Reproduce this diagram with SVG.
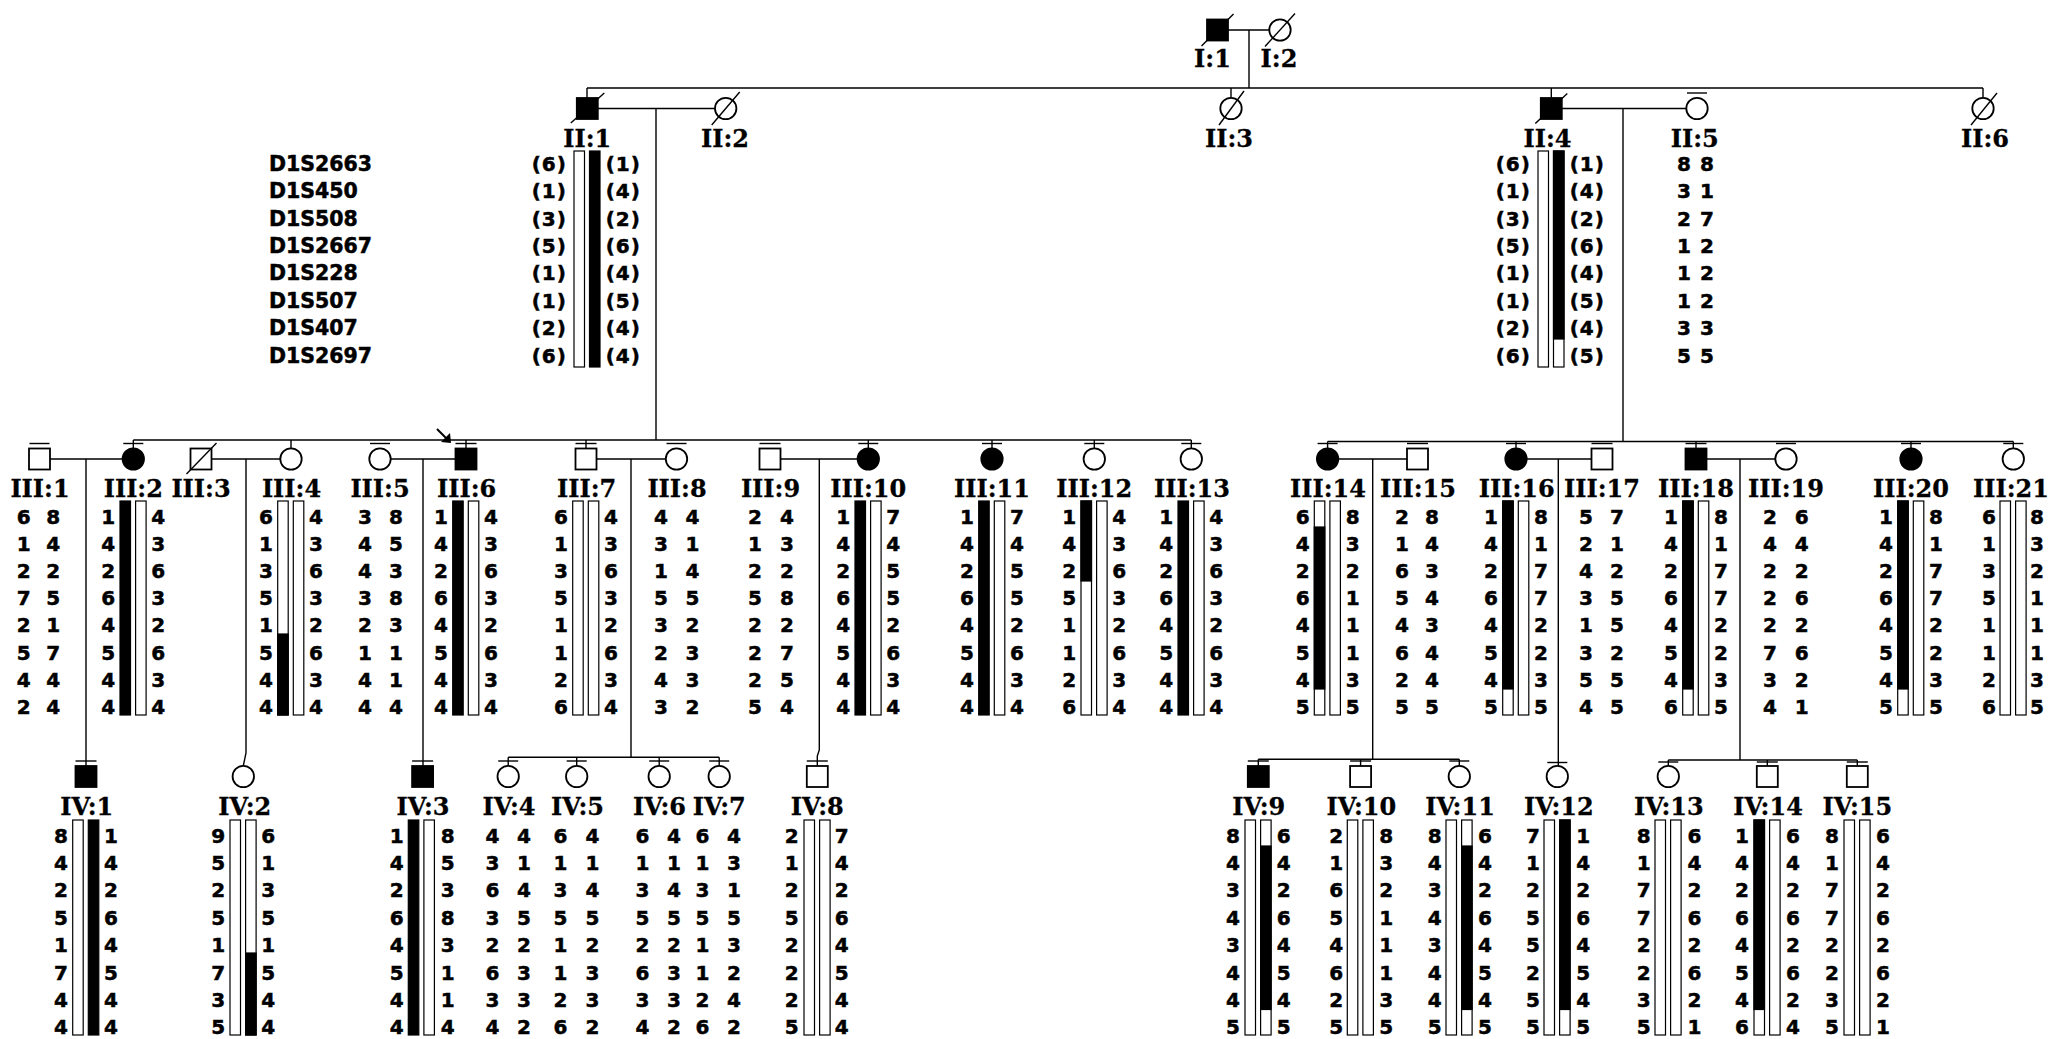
<svg xmlns="http://www.w3.org/2000/svg" width="2050" height="1039" viewBox="0 0 2050 1039">
<style>
.ln{stroke:#000;stroke-width:1.4;fill:none}
.s{stroke:#000;stroke-width:1.8;fill:#fff}
.k{fill:#000}
.bw{fill:#fff;stroke:#000;stroke-width:1.2}
.bb{fill:#000;stroke:#000;stroke-width:1.2}
.a{font-family:"DejaVu Sans",Verdana,sans-serif;font-weight:700;font-size:20px;text-anchor:middle;stroke:#000;stroke-width:0.5}
.p{letter-spacing:1px}
.m{font-family:"DejaVu Sans",Verdana,sans-serif;font-weight:700;font-size:20.5px;stroke:#000;stroke-width:0.5}
.l{font-family:"DejaVu Serif",serif;font-weight:700;font-size:24px;text-anchor:middle;stroke:#000;stroke-width:0.3}
</style>
<rect width="2050" height="1039" fill="#fff"/>
<g id="connectors" class="ln">
<path d="M1228 30H1269.3M1249 30V88"/>
<path d="M587 88H1983M587 88V98M1231 88V97.8M1551.3 88V98M1983 88V97.8"/>
<path d="M598 108.5H715M656 108.5V440M1562 108.5H1686.3M1623 108.5V441.5"/>
<path d="M133.3 440H1191.3M133.3 440V448.3M291 440V448.3M466 440V448.5M586 440V448.5M868.3 440V448.3M992 440V448.3M1094.3 440V448.3M1191.3 440V448.3"/>
<path d="M1327.6 441.5H2013.3M1327.6 441.5V448.3M1516 441.5V448.3M1696 441.5V448.5M1911 441.5V448.3M2013.3 441.5V448.3"/>
<path d="M50 459H122.6M211.5 459H280.3M390.7 459H455.5M596.5 459H665.8M780.5 459H857.6M1338.3 459H1407M1526.7 459H1591.5M1706.5 459H1775.3"/>
<path d="M86 459V766M246 459V753L243.3 765.8M423 459V766M631 459V757.3M819.3 459V750L817.3 756V766M1372.7 459V759.3M1558.3 459V765.8M1740 459V760"/>
<path d="M508.2 757.3H719.2M508.2 757.3V765.8M576.7 757.3V765.8M659.2 757.3V765.8M719.2 757.3V765.8"/>
<path d="M1258.3 759.3H1459.3M1258.3 759.3V766M1360.6 759.3V766M1459.3 759.3V765.8"/>
<path d="M1668.3 760H1857.3M1668.3 760V765.8M1767.3 760V766M1857.3 760V766"/>
</g>
<g id="markers" class="m">
<text x="269" y="171">D1S2663</text><text x="269" y="198">D1S450</text><text x="269" y="226">D1S508</text><text x="269" y="253">D1S2667</text><text x="269" y="280">D1S228</text><text x="269" y="308">D1S507</text><text x="269" y="335">D1S407</text><text x="269" y="363">D1S2697</text>
</g>
<g id="I-1" transform="translate(1217.5 0)">
<rect class="s k" x="-10.5" y="19.5" width="21" height="21"/><path class="ln" d="M-16 46L16 14"/>
<text class="l" x="-5" y="67">I:1</text>
</g>
<g id="I-2" transform="translate(1280 0)">
<circle class="s" cy="30" r="10.7"/><path class="ln" d="M-15 46.5L15 13.5"/>
<text class="l" x="-1" y="67">I:2</text>
</g>
<g id="II-1" transform="translate(587.3 0)">
<rect class="s k" x="-10.5" y="98" width="21" height="21"/><path class="ln" d="M-16.5 123L17 93"/>
<text class="l" y="147">II:1</text>
<rect class="bw" x="-13.3" y="151" width="10.5" height="216"/><rect class="bb" x="2.2" y="151" width="10.5" height="216"/>
<text class="a p" x="-38" y="171">(6)</text><text class="a p" x="-38" y="198">(1)</text><text class="a p" x="-38" y="226">(3)</text><text class="a p" x="-38" y="253">(5)</text><text class="a p" x="-38" y="280">(1)</text><text class="a p" x="-38" y="308">(1)</text><text class="a p" x="-38" y="335">(2)</text><text class="a p" x="-38" y="363">(6)</text>
<text class="a p" x="36" y="171">(1)</text><text class="a p" x="36" y="198">(4)</text><text class="a p" x="36" y="226">(2)</text><text class="a p" x="36" y="253">(6)</text><text class="a p" x="36" y="280">(4)</text><text class="a p" x="36" y="308">(5)</text><text class="a p" x="36" y="335">(4)</text><text class="a p" x="36" y="363">(4)</text>
</g>
<g id="II-2" transform="translate(725.7 0)">
<circle class="s" cy="108.5" r="10.7"/><path class="ln" d="M-14 125L14 92"/>
<text class="l" x="-0.7" y="147">II:2</text>
</g>
<g id="II-3" transform="translate(1231 0)">
<circle class="s" cy="108.5" r="10.7"/><path class="ln" d="M-12 125L13 91"/>
<text class="l" x="-2" y="147">II:3</text>
</g>
<g id="II-4" transform="translate(1551.3 0)">
<rect class="s k" x="-10.5" y="98" width="21" height="21"/><path class="ln" d="M-16 123.5L16 93.5"/>
<text class="l" x="-3.8" y="147">II:4</text>
<rect class="bw" x="-13.3" y="151" width="10.5" height="216"/><rect class="bw" x="2.2" y="151" width="10.5" height="216"/><rect class="bb" x="2.2" y="151" width="10.5" height="188"/>
<text class="a p" x="-38" y="171">(6)</text><text class="a p" x="-38" y="198">(1)</text><text class="a p" x="-38" y="226">(3)</text><text class="a p" x="-38" y="253">(5)</text><text class="a p" x="-38" y="280">(1)</text><text class="a p" x="-38" y="308">(1)</text><text class="a p" x="-38" y="335">(2)</text><text class="a p" x="-38" y="363">(6)</text>
<text class="a p" x="36" y="171">(1)</text><text class="a p" x="36" y="198">(4)</text><text class="a p" x="36" y="226">(2)</text><text class="a p" x="36" y="253">(6)</text><text class="a p" x="36" y="280">(4)</text><text class="a p" x="36" y="308">(5)</text><text class="a p" x="36" y="335">(4)</text><text class="a p" x="36" y="363">(5)</text>
</g>
<g id="II-5" transform="translate(1697 0)">
<circle class="s" cy="108.5" r="10.7"/><path class="ln" d="M-10 93H10"/>
<text class="l" x="-2.3" y="147">II:5</text>
<text class="a" x="-13" y="171">8</text><text class="a" x="-13" y="198">3</text><text class="a" x="-13" y="226">2</text><text class="a" x="-13" y="253">1</text><text class="a" x="-13" y="280">1</text><text class="a" x="-13" y="308">1</text><text class="a" x="-13" y="335">3</text><text class="a" x="-13" y="363">5</text>
<text class="a" x="10" y="171">8</text><text class="a" x="10" y="198">1</text><text class="a" x="10" y="226">7</text><text class="a" x="10" y="253">2</text><text class="a" x="10" y="280">2</text><text class="a" x="10" y="308">2</text><text class="a" x="10" y="335">3</text><text class="a" x="10" y="363">5</text>
</g>
<g id="II-6" transform="translate(1983 0)">
<circle class="s" cy="108.5" r="10.7"/><path class="ln" d="M-12 125L14 93"/>
<text class="l" x="2" y="147">II:6</text>
</g>
<g id="III-1" transform="translate(39.5 0)">
<rect class="s" x="-10.5" y="448.5" width="21" height="21"/><path class="ln" d="M-10 443.5H10"/>
<text class="l" x="0.5" y="497">III:1</text>
<text class="a" x="-15.8" y="524">6</text><text class="a" x="-15.8" y="551">1</text><text class="a" x="-15.8" y="578">2</text><text class="a" x="-15.8" y="605">7</text><text class="a" x="-15.8" y="632">2</text><text class="a" x="-15.8" y="660">5</text><text class="a" x="-15.8" y="687">4</text><text class="a" x="-15.8" y="714">2</text>
<text class="a" x="13.8" y="524">8</text><text class="a" x="13.8" y="551">4</text><text class="a" x="13.8" y="578">2</text><text class="a" x="13.8" y="605">5</text><text class="a" x="13.8" y="632">1</text><text class="a" x="13.8" y="660">7</text><text class="a" x="13.8" y="687">4</text><text class="a" x="13.8" y="714">4</text>
</g>
<g id="III-2" transform="translate(133.3 0)">
<circle class="s k" cy="459" r="10.7"/><path class="ln" d="M-10 443.5H10"/>
<text class="l" y="497">III:2</text>
<rect class="bb" x="-13.3" y="501" width="10.5" height="214"/><rect class="bw" x="2.3" y="501" width="10.5" height="214"/>
<text class="a" x="-25" y="524">1</text><text class="a" x="-25" y="551">4</text><text class="a" x="-25" y="578">2</text><text class="a" x="-25" y="605">6</text><text class="a" x="-25" y="632">4</text><text class="a" x="-25" y="660">5</text><text class="a" x="-25" y="687">4</text><text class="a" x="-25" y="714">4</text>
<text class="a" x="25" y="524">4</text><text class="a" x="25" y="551">3</text><text class="a" x="25" y="578">6</text><text class="a" x="25" y="605">3</text><text class="a" x="25" y="632">2</text><text class="a" x="25" y="660">6</text><text class="a" x="25" y="687">3</text><text class="a" x="25" y="714">4</text>
</g>
<g id="III-3" transform="translate(201 0)">
<rect class="s" x="-10.5" y="448.5" width="21" height="21"/><path class="ln" d="M-14.5 474L15.5 443"/>
<text class="l" y="497">III:3</text>
</g>
<g id="III-4" transform="translate(291 0)">
<circle class="s" cy="459" r="10.7"/>
<text class="l" x="0.5" y="497">III:4</text>
<rect class="bw" x="-13.3" y="501" width="10.5" height="214"/><rect class="bb" x="-13.3" y="634" width="10.5" height="81"/><rect class="bw" x="2.3" y="501" width="10.5" height="214"/>
<text class="a" x="-25" y="524">6</text><text class="a" x="-25" y="551">1</text><text class="a" x="-25" y="578">3</text><text class="a" x="-25" y="605">5</text><text class="a" x="-25" y="632">1</text><text class="a" x="-25" y="660">5</text><text class="a" x="-25" y="687">4</text><text class="a" x="-25" y="714">4</text>
<text class="a" x="25" y="524">4</text><text class="a" x="25" y="551">3</text><text class="a" x="25" y="578">6</text><text class="a" x="25" y="605">3</text><text class="a" x="25" y="632">2</text><text class="a" x="25" y="660">6</text><text class="a" x="25" y="687">3</text><text class="a" x="25" y="714">4</text>
</g>
<g id="III-5" transform="translate(380 0)">
<circle class="s" cy="459" r="10.7"/><path class="ln" d="M-10 443.5H10"/>
<text class="l" y="497">III:5</text>
<text class="a" x="-15" y="524">3</text><text class="a" x="-15" y="551">4</text><text class="a" x="-15" y="578">4</text><text class="a" x="-15" y="605">3</text><text class="a" x="-15" y="632">2</text><text class="a" x="-15" y="660">1</text><text class="a" x="-15" y="687">4</text><text class="a" x="-15" y="714">4</text>
<text class="a" x="16" y="524">8</text><text class="a" x="16" y="551">5</text><text class="a" x="16" y="578">3</text><text class="a" x="16" y="605">8</text><text class="a" x="16" y="632">3</text><text class="a" x="16" y="660">1</text><text class="a" x="16" y="687">1</text><text class="a" x="16" y="714">4</text>
</g>
<g id="III-6" transform="translate(466 0)">
<rect class="s k" x="-10.5" y="448.5" width="21" height="21"/><path class="ln" d="M-10.5 443.5H10.5"/>
<path class="ln" d="M-29 429L-18.5 439.5" style="stroke-width:2"/><polygon points="-15,443 -16,433 -25,442"/>
<text class="l" x="0.7" y="497">III:6</text>
<rect class="bb" x="-13.3" y="501" width="10.5" height="214"/><rect class="bw" x="2.3" y="501" width="10.5" height="214"/>
<text class="a" x="-25" y="524">1</text><text class="a" x="-25" y="551">4</text><text class="a" x="-25" y="578">2</text><text class="a" x="-25" y="605">6</text><text class="a" x="-25" y="632">4</text><text class="a" x="-25" y="660">5</text><text class="a" x="-25" y="687">4</text><text class="a" x="-25" y="714">4</text>
<text class="a" x="25" y="524">4</text><text class="a" x="25" y="551">3</text><text class="a" x="25" y="578">6</text><text class="a" x="25" y="605">3</text><text class="a" x="25" y="632">2</text><text class="a" x="25" y="660">6</text><text class="a" x="25" y="687">3</text><text class="a" x="25" y="714">4</text>
</g>
<g id="III-7" transform="translate(586 0)">
<rect class="s" x="-10.5" y="448.5" width="21" height="21"/><path class="ln" d="M-10.5 443.5H10.5"/>
<text class="l" x="0.7" y="497">III:7</text>
<rect class="bw" x="-13.3" y="501" width="10.5" height="214"/><rect class="bw" x="2.3" y="501" width="10.5" height="214"/>
<text class="a" x="-25" y="524">6</text><text class="a" x="-25" y="551">1</text><text class="a" x="-25" y="578">3</text><text class="a" x="-25" y="605">5</text><text class="a" x="-25" y="632">1</text><text class="a" x="-25" y="660">1</text><text class="a" x="-25" y="687">2</text><text class="a" x="-25" y="714">6</text>
<text class="a" x="25" y="524">4</text><text class="a" x="25" y="551">3</text><text class="a" x="25" y="578">6</text><text class="a" x="25" y="605">3</text><text class="a" x="25" y="632">2</text><text class="a" x="25" y="660">6</text><text class="a" x="25" y="687">3</text><text class="a" x="25" y="714">4</text>
</g>
<g id="III-8" transform="translate(676.5 0)">
<circle class="s" cy="459" r="10.7"/><path class="ln" d="M-10 443.5H10"/>
<text class="l" x="0.5" y="497">III:8</text>
<text class="a" x="-15.5" y="524">4</text><text class="a" x="-15.5" y="551">3</text><text class="a" x="-15.5" y="578">1</text><text class="a" x="-15.5" y="605">5</text><text class="a" x="-15.5" y="632">3</text><text class="a" x="-15.5" y="660">2</text><text class="a" x="-15.5" y="687">4</text><text class="a" x="-15.5" y="714">3</text>
<text class="a" x="16" y="524">4</text><text class="a" x="16" y="551">1</text><text class="a" x="16" y="578">4</text><text class="a" x="16" y="605">5</text><text class="a" x="16" y="632">2</text><text class="a" x="16" y="660">3</text><text class="a" x="16" y="687">3</text><text class="a" x="16" y="714">2</text>
</g>
<g id="III-9" transform="translate(770 0)">
<rect class="s" x="-10.5" y="448.5" width="21" height="21"/><path class="ln" d="M-10.5 443.5H10.5"/>
<text class="l" x="0.5" y="497">III:9</text>
<text class="a" x="-15" y="524">2</text><text class="a" x="-15" y="551">1</text><text class="a" x="-15" y="578">2</text><text class="a" x="-15" y="605">5</text><text class="a" x="-15" y="632">2</text><text class="a" x="-15" y="660">2</text><text class="a" x="-15" y="687">2</text><text class="a" x="-15" y="714">5</text>
<text class="a" x="17" y="524">4</text><text class="a" x="17" y="551">3</text><text class="a" x="17" y="578">2</text><text class="a" x="17" y="605">8</text><text class="a" x="17" y="632">2</text><text class="a" x="17" y="660">7</text><text class="a" x="17" y="687">5</text><text class="a" x="17" y="714">4</text>
</g>
<g id="III-10" transform="translate(868.3 0)">
<circle class="s k" cy="459" r="10.7"/><path class="ln" d="M-10 443.5H10"/>
<text class="l" y="497">III:10</text>
<rect class="bb" x="-13.3" y="501" width="10.5" height="214"/><rect class="bw" x="2.3" y="501" width="10.5" height="214"/>
<text class="a" x="-25" y="524">1</text><text class="a" x="-25" y="551">4</text><text class="a" x="-25" y="578">2</text><text class="a" x="-25" y="605">6</text><text class="a" x="-25" y="632">4</text><text class="a" x="-25" y="660">5</text><text class="a" x="-25" y="687">4</text><text class="a" x="-25" y="714">4</text>
<text class="a" x="25" y="524">7</text><text class="a" x="25" y="551">4</text><text class="a" x="25" y="578">5</text><text class="a" x="25" y="605">5</text><text class="a" x="25" y="632">2</text><text class="a" x="25" y="660">6</text><text class="a" x="25" y="687">3</text><text class="a" x="25" y="714">4</text>
</g>
<g id="III-11" transform="translate(992 0)">
<circle class="s k" cy="459" r="10.7"/><path class="ln" d="M-10 443.5H10"/>
<text class="l" y="497">III:11</text>
<rect class="bb" x="-13.3" y="501" width="10.5" height="214"/><rect class="bw" x="2.3" y="501" width="10.5" height="214"/>
<text class="a" x="-25" y="524">1</text><text class="a" x="-25" y="551">4</text><text class="a" x="-25" y="578">2</text><text class="a" x="-25" y="605">6</text><text class="a" x="-25" y="632">4</text><text class="a" x="-25" y="660">5</text><text class="a" x="-25" y="687">4</text><text class="a" x="-25" y="714">4</text>
<text class="a" x="25" y="524">7</text><text class="a" x="25" y="551">4</text><text class="a" x="25" y="578">5</text><text class="a" x="25" y="605">5</text><text class="a" x="25" y="632">2</text><text class="a" x="25" y="660">6</text><text class="a" x="25" y="687">3</text><text class="a" x="25" y="714">4</text>
</g>
<g id="III-12" transform="translate(1094.3 0)">
<circle class="s" cy="459" r="10.7"/><path class="ln" d="M-10 443.5H10"/>
<text class="l" y="497">III:12</text>
<rect class="bw" x="-13.3" y="501" width="10.5" height="214"/><rect class="bb" x="-13.3" y="501" width="10.5" height="80"/><rect class="bw" x="2.3" y="501" width="10.5" height="214"/>
<text class="a" x="-25" y="524">1</text><text class="a" x="-25" y="551">4</text><text class="a" x="-25" y="578">2</text><text class="a" x="-25" y="605">5</text><text class="a" x="-25" y="632">1</text><text class="a" x="-25" y="660">1</text><text class="a" x="-25" y="687">2</text><text class="a" x="-25" y="714">6</text>
<text class="a" x="25" y="524">4</text><text class="a" x="25" y="551">3</text><text class="a" x="25" y="578">6</text><text class="a" x="25" y="605">3</text><text class="a" x="25" y="632">2</text><text class="a" x="25" y="660">6</text><text class="a" x="25" y="687">3</text><text class="a" x="25" y="714">4</text>
</g>
<g id="III-13" transform="translate(1191.3 0)">
<circle class="s" cy="459" r="10.7"/><path class="ln" d="M-10 443.5H10"/>
<text class="l" x="0.7" y="497">III:13</text>
<rect class="bb" x="-13.3" y="501" width="10.5" height="214"/><rect class="bw" x="2.3" y="501" width="10.5" height="214"/>
<text class="a" x="-25" y="524">1</text><text class="a" x="-25" y="551">4</text><text class="a" x="-25" y="578">2</text><text class="a" x="-25" y="605">6</text><text class="a" x="-25" y="632">4</text><text class="a" x="-25" y="660">5</text><text class="a" x="-25" y="687">4</text><text class="a" x="-25" y="714">4</text>
<text class="a" x="25" y="524">4</text><text class="a" x="25" y="551">3</text><text class="a" x="25" y="578">6</text><text class="a" x="25" y="605">3</text><text class="a" x="25" y="632">2</text><text class="a" x="25" y="660">6</text><text class="a" x="25" y="687">3</text><text class="a" x="25" y="714">4</text>
</g>
<g id="III-14" transform="translate(1327.6 0)">
<circle class="s k" cy="459" r="10.7"/><path class="ln" d="M-10 443.5H10"/>
<text class="l" x="0.4" y="497">III:14</text>
<rect class="bw" x="-13.3" y="501" width="10.5" height="214"/><rect class="bb" x="-13.3" y="527" width="10.5" height="162"/><rect class="bw" x="2.3" y="501" width="10.5" height="214"/>
<text class="a" x="-25" y="524">6</text><text class="a" x="-25" y="551">4</text><text class="a" x="-25" y="578">2</text><text class="a" x="-25" y="605">6</text><text class="a" x="-25" y="632">4</text><text class="a" x="-25" y="660">5</text><text class="a" x="-25" y="687">4</text><text class="a" x="-25" y="714">5</text>
<text class="a" x="25" y="524">8</text><text class="a" x="25" y="551">3</text><text class="a" x="25" y="578">2</text><text class="a" x="25" y="605">1</text><text class="a" x="25" y="632">1</text><text class="a" x="25" y="660">1</text><text class="a" x="25" y="687">3</text><text class="a" x="25" y="714">5</text>
</g>
<g id="III-15" transform="translate(1417.5 0)">
<rect class="s" x="-10.5" y="448.5" width="21" height="21"/><path class="ln" d="M-10.5 443.5H10.5"/>
<text class="l" x="0.5" y="497">III:15</text>
<text class="a" x="-15.5" y="524">2</text><text class="a" x="-15.5" y="551">1</text><text class="a" x="-15.5" y="578">6</text><text class="a" x="-15.5" y="605">5</text><text class="a" x="-15.5" y="632">4</text><text class="a" x="-15.5" y="660">6</text><text class="a" x="-15.5" y="687">2</text><text class="a" x="-15.5" y="714">5</text>
<text class="a" x="14.5" y="524">8</text><text class="a" x="14.5" y="551">4</text><text class="a" x="14.5" y="578">3</text><text class="a" x="14.5" y="605">4</text><text class="a" x="14.5" y="632">3</text><text class="a" x="14.5" y="660">4</text><text class="a" x="14.5" y="687">4</text><text class="a" x="14.5" y="714">5</text>
</g>
<g id="III-16" transform="translate(1516 0)">
<circle class="s k" cy="459" r="10.7"/><path class="ln" d="M-10 443.5H10"/>
<text class="l" x="0.7" y="497">III:16</text>
<rect class="bw" x="-13.3" y="501" width="10.5" height="214"/><rect class="bb" x="-13.3" y="501" width="10.5" height="188"/><rect class="bw" x="2.3" y="501" width="10.5" height="214"/>
<text class="a" x="-25" y="524">1</text><text class="a" x="-25" y="551">4</text><text class="a" x="-25" y="578">2</text><text class="a" x="-25" y="605">6</text><text class="a" x="-25" y="632">4</text><text class="a" x="-25" y="660">5</text><text class="a" x="-25" y="687">4</text><text class="a" x="-25" y="714">5</text>
<text class="a" x="25" y="524">8</text><text class="a" x="25" y="551">1</text><text class="a" x="25" y="578">7</text><text class="a" x="25" y="605">7</text><text class="a" x="25" y="632">2</text><text class="a" x="25" y="660">2</text><text class="a" x="25" y="687">3</text><text class="a" x="25" y="714">5</text>
</g>
<g id="III-17" transform="translate(1602 0)">
<rect class="s" x="-10.5" y="448.5" width="21" height="21"/><path class="ln" d="M-10.5 443.5H10.5"/>
<text class="l" y="497">III:17</text>
<text class="a" x="-16" y="524">5</text><text class="a" x="-16" y="551">2</text><text class="a" x="-16" y="578">4</text><text class="a" x="-16" y="605">3</text><text class="a" x="-16" y="632">1</text><text class="a" x="-16" y="660">3</text><text class="a" x="-16" y="687">5</text><text class="a" x="-16" y="714">4</text>
<text class="a" x="15" y="524">7</text><text class="a" x="15" y="551">1</text><text class="a" x="15" y="578">2</text><text class="a" x="15" y="605">5</text><text class="a" x="15" y="632">5</text><text class="a" x="15" y="660">2</text><text class="a" x="15" y="687">5</text><text class="a" x="15" y="714">5</text>
</g>
<g id="III-18" transform="translate(1696 0)">
<rect class="s k" x="-10.5" y="448.5" width="21" height="21"/><path class="ln" d="M-10.5 443.5H10.5"/>
<text class="l" y="497">III:18</text>
<rect class="bw" x="-13.3" y="501" width="10.5" height="214"/><rect class="bb" x="-13.3" y="501" width="10.5" height="188"/><rect class="bw" x="2.3" y="501" width="10.5" height="214"/>
<text class="a" x="-25" y="524">1</text><text class="a" x="-25" y="551">4</text><text class="a" x="-25" y="578">2</text><text class="a" x="-25" y="605">6</text><text class="a" x="-25" y="632">4</text><text class="a" x="-25" y="660">5</text><text class="a" x="-25" y="687">4</text><text class="a" x="-25" y="714">6</text>
<text class="a" x="25" y="524">8</text><text class="a" x="25" y="551">1</text><text class="a" x="25" y="578">7</text><text class="a" x="25" y="605">7</text><text class="a" x="25" y="632">2</text><text class="a" x="25" y="660">2</text><text class="a" x="25" y="687">3</text><text class="a" x="25" y="714">5</text>
</g>
<g id="III-19" transform="translate(1786 0)">
<circle class="s" cy="459" r="10.7"/><path class="ln" d="M-10 443.5H10"/>
<text class="l" y="497">III:19</text>
<text class="a" x="-16" y="524">2</text><text class="a" x="-16" y="551">4</text><text class="a" x="-16" y="578">2</text><text class="a" x="-16" y="605">2</text><text class="a" x="-16" y="632">2</text><text class="a" x="-16" y="660">7</text><text class="a" x="-16" y="687">3</text><text class="a" x="-16" y="714">4</text>
<text class="a" x="15.7" y="524">6</text><text class="a" x="15.7" y="551">4</text><text class="a" x="15.7" y="578">2</text><text class="a" x="15.7" y="605">6</text><text class="a" x="15.7" y="632">2</text><text class="a" x="15.7" y="660">6</text><text class="a" x="15.7" y="687">2</text><text class="a" x="15.7" y="714">1</text>
</g>
<g id="III-20" transform="translate(1911 0)">
<circle class="s k" cy="459" r="10.7"/><path class="ln" d="M-10 443.5H10"/>
<text class="l" y="497">III:20</text>
<rect class="bw" x="-13.3" y="501" width="10.5" height="214"/><rect class="bb" x="-13.3" y="501" width="10.5" height="188"/><rect class="bw" x="2.3" y="501" width="10.5" height="214"/>
<text class="a" x="-25" y="524">1</text><text class="a" x="-25" y="551">4</text><text class="a" x="-25" y="578">2</text><text class="a" x="-25" y="605">6</text><text class="a" x="-25" y="632">4</text><text class="a" x="-25" y="660">5</text><text class="a" x="-25" y="687">4</text><text class="a" x="-25" y="714">5</text>
<text class="a" x="25" y="524">8</text><text class="a" x="25" y="551">1</text><text class="a" x="25" y="578">7</text><text class="a" x="25" y="605">7</text><text class="a" x="25" y="632">2</text><text class="a" x="25" y="660">2</text><text class="a" x="25" y="687">3</text><text class="a" x="25" y="714">5</text>
</g>
<g id="III-21" transform="translate(2013.3 0)">
<circle class="s" cy="459" r="10.7"/><path class="ln" d="M-10 443.5H10"/>
<text class="l" x="-2.3" y="497">III:21</text>
<rect class="bw" x="-13.3" y="501" width="10.5" height="214"/><rect class="bw" x="2.3" y="501" width="10.5" height="214"/>
<text class="a" x="-24.3" y="524">6</text><text class="a" x="-24.3" y="551">1</text><text class="a" x="-24.3" y="578">3</text><text class="a" x="-24.3" y="605">5</text><text class="a" x="-24.3" y="632">1</text><text class="a" x="-24.3" y="660">1</text><text class="a" x="-24.3" y="687">2</text><text class="a" x="-24.3" y="714">6</text>
<text class="a" x="23.7" y="524">8</text><text class="a" x="23.7" y="551">3</text><text class="a" x="23.7" y="578">2</text><text class="a" x="23.7" y="605">1</text><text class="a" x="23.7" y="632">1</text><text class="a" x="23.7" y="660">1</text><text class="a" x="23.7" y="687">3</text><text class="a" x="23.7" y="714">5</text>
</g>
<g id="IV-1" transform="translate(86 0)">
<rect class="s k" x="-10.5" y="766" width="21" height="21"/><path class="ln" d="M-10.5 761H10.5"/>
<text class="l" x="0.7" y="815">IV:1</text>
<rect class="bw" x="-13.3" y="820" width="10.5" height="215"/><rect class="bb" x="2.3" y="820" width="10.5" height="215"/>
<text class="a" x="-25" y="843">8</text><text class="a" x="-25" y="870">4</text><text class="a" x="-25" y="897">2</text><text class="a" x="-25" y="925">5</text><text class="a" x="-25" y="952">1</text><text class="a" x="-25" y="980">7</text><text class="a" x="-25" y="1007">4</text><text class="a" x="-25" y="1034">4</text>
<text class="a" x="25" y="843">1</text><text class="a" x="25" y="870">4</text><text class="a" x="25" y="897">2</text><text class="a" x="25" y="925">6</text><text class="a" x="25" y="952">4</text><text class="a" x="25" y="980">5</text><text class="a" x="25" y="1007">4</text><text class="a" x="25" y="1034">4</text>
</g>
<g id="IV-2" transform="translate(243.3 0)">
<circle class="s" cy="776.5" r="10.7"/>
<text class="l" x="1.4" y="815">IV:2</text>
<rect class="bw" x="-13.3" y="820" width="10.5" height="215"/><rect class="bw" x="2.3" y="820" width="10.5" height="215"/><rect class="bb" x="2.3" y="953" width="10.5" height="82"/>
<text class="a" x="-25" y="843">9</text><text class="a" x="-25" y="870">5</text><text class="a" x="-25" y="897">2</text><text class="a" x="-25" y="925">5</text><text class="a" x="-25" y="952">1</text><text class="a" x="-25" y="980">7</text><text class="a" x="-25" y="1007">3</text><text class="a" x="-25" y="1034">5</text>
<text class="a" x="25" y="843">6</text><text class="a" x="25" y="870">1</text><text class="a" x="25" y="897">3</text><text class="a" x="25" y="925">5</text><text class="a" x="25" y="952">1</text><text class="a" x="25" y="980">5</text><text class="a" x="25" y="1007">4</text><text class="a" x="25" y="1034">4</text>
</g>
<g id="IV-3" transform="translate(421.6 0)">
<rect class="s k" x="-9.5" y="766" width="21" height="21"/><path class="ln" d="M-9.5 761H11.5"/>
<text class="l" x="1.4" y="815">IV:3</text>
<rect class="bb" x="-13.3" y="820" width="10.5" height="215"/><rect class="bw" x="2.3" y="820" width="10.5" height="215"/>
<text class="a" x="-25" y="843">1</text><text class="a" x="-25" y="870">4</text><text class="a" x="-25" y="897">2</text><text class="a" x="-25" y="925">6</text><text class="a" x="-25" y="952">4</text><text class="a" x="-25" y="980">5</text><text class="a" x="-25" y="1007">4</text><text class="a" x="-25" y="1034">4</text>
<text class="a" x="26" y="843">8</text><text class="a" x="26" y="870">5</text><text class="a" x="26" y="897">3</text><text class="a" x="26" y="925">8</text><text class="a" x="26" y="952">3</text><text class="a" x="26" y="980">1</text><text class="a" x="26" y="1007">1</text><text class="a" x="26" y="1034">4</text>
</g>
<g id="IV-4" transform="translate(508.2 0)">
<circle class="s" cy="776.5" r="10.7"/><path class="ln" d="M-10 761H10"/>
<text class="l" x="0.8" y="815">IV:4</text>
<text class="a" x="-15.7" y="843">4</text><text class="a" x="-15.7" y="870">3</text><text class="a" x="-15.7" y="897">6</text><text class="a" x="-15.7" y="925">3</text><text class="a" x="-15.7" y="952">2</text><text class="a" x="-15.7" y="980">6</text><text class="a" x="-15.7" y="1007">3</text><text class="a" x="-15.7" y="1034">4</text>
<text class="a" x="15.8" y="843">4</text><text class="a" x="15.8" y="870">1</text><text class="a" x="15.8" y="897">4</text><text class="a" x="15.8" y="925">5</text><text class="a" x="15.8" y="952">2</text><text class="a" x="15.8" y="980">3</text><text class="a" x="15.8" y="1007">3</text><text class="a" x="15.8" y="1034">2</text>
</g>
<g id="IV-5" transform="translate(576.7 0)">
<circle class="s" cy="776.5" r="10.7"/><path class="ln" d="M-10 761H10"/>
<text class="l" x="0.8" y="815">IV:5</text>
<text class="a" x="-16.2" y="843">6</text><text class="a" x="-16.2" y="870">1</text><text class="a" x="-16.2" y="897">3</text><text class="a" x="-16.2" y="925">5</text><text class="a" x="-16.2" y="952">1</text><text class="a" x="-16.2" y="980">1</text><text class="a" x="-16.2" y="1007">2</text><text class="a" x="-16.2" y="1034">6</text>
<text class="a" x="15.8" y="843">4</text><text class="a" x="15.8" y="870">1</text><text class="a" x="15.8" y="897">4</text><text class="a" x="15.8" y="925">5</text><text class="a" x="15.8" y="952">2</text><text class="a" x="15.8" y="980">3</text><text class="a" x="15.8" y="1007">3</text><text class="a" x="15.8" y="1034">2</text>
</g>
<g id="IV-6" transform="translate(659.2 0)">
<circle class="s" cy="776.5" r="10.7"/><path class="ln" d="M-10 761H10"/>
<text class="l" x="0.3" y="815">IV:6</text>
<text class="a" x="-16.7" y="843">6</text><text class="a" x="-16.7" y="870">1</text><text class="a" x="-16.7" y="897">3</text><text class="a" x="-16.7" y="925">5</text><text class="a" x="-16.7" y="952">2</text><text class="a" x="-16.7" y="980">6</text><text class="a" x="-16.7" y="1007">3</text><text class="a" x="-16.7" y="1034">4</text>
<text class="a" x="14.8" y="843">4</text><text class="a" x="14.8" y="870">1</text><text class="a" x="14.8" y="897">4</text><text class="a" x="14.8" y="925">5</text><text class="a" x="14.8" y="952">2</text><text class="a" x="14.8" y="980">3</text><text class="a" x="14.8" y="1007">3</text><text class="a" x="14.8" y="1034">2</text>
</g>
<g id="IV-7" transform="translate(719.2 0)">
<circle class="s" cy="776.5" r="10.7"/><path class="ln" d="M-10 761H10"/>
<text class="l" y="815">IV:7</text>
<text class="a" x="-16.7" y="843">6</text><text class="a" x="-16.7" y="870">1</text><text class="a" x="-16.7" y="897">3</text><text class="a" x="-16.7" y="925">5</text><text class="a" x="-16.7" y="952">1</text><text class="a" x="-16.7" y="980">1</text><text class="a" x="-16.7" y="1007">2</text><text class="a" x="-16.7" y="1034">6</text>
<text class="a" x="14.8" y="843">4</text><text class="a" x="14.8" y="870">3</text><text class="a" x="14.8" y="897">1</text><text class="a" x="14.8" y="925">5</text><text class="a" x="14.8" y="952">3</text><text class="a" x="14.8" y="980">2</text><text class="a" x="14.8" y="1007">4</text><text class="a" x="14.8" y="1034">2</text>
</g>
<g id="IV-8" transform="translate(817.3 0)">
<rect class="s" x="-10.5" y="766" width="21" height="21"/><path class="ln" d="M-10.5 761H10.5"/>
<text class="l" y="815">IV:8</text>
<rect class="bw" x="-13.3" y="820" width="10.5" height="215"/><rect class="bw" x="2.3" y="820" width="10.5" height="215"/>
<text class="a" x="-25.6" y="843">2</text><text class="a" x="-25.6" y="870">1</text><text class="a" x="-25.6" y="897">2</text><text class="a" x="-25.6" y="925">5</text><text class="a" x="-25.6" y="952">2</text><text class="a" x="-25.6" y="980">2</text><text class="a" x="-25.6" y="1007">2</text><text class="a" x="-25.6" y="1034">5</text>
<text class="a" x="24.4" y="843">7</text><text class="a" x="24.4" y="870">4</text><text class="a" x="24.4" y="897">2</text><text class="a" x="24.4" y="925">6</text><text class="a" x="24.4" y="952">4</text><text class="a" x="24.4" y="980">5</text><text class="a" x="24.4" y="1007">4</text><text class="a" x="24.4" y="1034">4</text>
</g>
<g id="IV-9" transform="translate(1258.3 0)">
<rect class="s k" x="-10.5" y="766" width="21" height="21"/><path class="ln" d="M-10.5 761H10.5"/>
<text class="l" x="0.5" y="815">IV:9</text>
<rect class="bw" x="-13.3" y="820" width="10.5" height="215"/><rect class="bw" x="2.3" y="820" width="10.5" height="215"/><rect class="bb" x="2.3" y="846" width="10.5" height="163.5"/>
<text class="a" x="-25.3" y="843">8</text><text class="a" x="-25.3" y="870">4</text><text class="a" x="-25.3" y="897">3</text><text class="a" x="-25.3" y="925">4</text><text class="a" x="-25.3" y="952">3</text><text class="a" x="-25.3" y="980">4</text><text class="a" x="-25.3" y="1007">4</text><text class="a" x="-25.3" y="1034">5</text>
<text class="a" x="25.4" y="843">6</text><text class="a" x="25.4" y="870">4</text><text class="a" x="25.4" y="897">2</text><text class="a" x="25.4" y="925">6</text><text class="a" x="25.4" y="952">4</text><text class="a" x="25.4" y="980">5</text><text class="a" x="25.4" y="1007">4</text><text class="a" x="25.4" y="1034">5</text>
</g>
<g id="IV-10" transform="translate(1360.6 0)">
<rect class="s" x="-10.5" y="766" width="21" height="21"/><path class="ln" d="M-10.5 761H10.5"/>
<text class="l" x="0.7" y="815">IV:10</text>
<rect class="bw" x="-13.3" y="820" width="10.5" height="215"/><rect class="bw" x="2.3" y="820" width="10.5" height="215"/>
<text class="a" x="-24.3" y="843">2</text><text class="a" x="-24.3" y="870">1</text><text class="a" x="-24.3" y="897">6</text><text class="a" x="-24.3" y="925">5</text><text class="a" x="-24.3" y="952">4</text><text class="a" x="-24.3" y="980">6</text><text class="a" x="-24.3" y="1007">2</text><text class="a" x="-24.3" y="1034">5</text>
<text class="a" x="25.7" y="843">8</text><text class="a" x="25.7" y="870">3</text><text class="a" x="25.7" y="897">2</text><text class="a" x="25.7" y="925">1</text><text class="a" x="25.7" y="952">1</text><text class="a" x="25.7" y="980">1</text><text class="a" x="25.7" y="1007">3</text><text class="a" x="25.7" y="1034">5</text>
</g>
<g id="IV-11" transform="translate(1459.3 0)">
<circle class="s" cy="776.5" r="10.7"/><path class="ln" d="M-10 761H10"/>
<text class="l" x="0.7" y="815">IV:11</text>
<rect class="bw" x="-13.3" y="820" width="10.5" height="215"/><rect class="bw" x="2.3" y="820" width="10.5" height="215"/><rect class="bb" x="2.3" y="846" width="10.5" height="163.5"/>
<text class="a" x="-24.6" y="843">8</text><text class="a" x="-24.6" y="870">4</text><text class="a" x="-24.6" y="897">3</text><text class="a" x="-24.6" y="925">4</text><text class="a" x="-24.6" y="952">3</text><text class="a" x="-24.6" y="980">4</text><text class="a" x="-24.6" y="1007">4</text><text class="a" x="-24.6" y="1034">5</text>
<text class="a" x="25.7" y="843">6</text><text class="a" x="25.7" y="870">4</text><text class="a" x="25.7" y="897">2</text><text class="a" x="25.7" y="925">6</text><text class="a" x="25.7" y="952">4</text><text class="a" x="25.7" y="980">5</text><text class="a" x="25.7" y="1007">4</text><text class="a" x="25.7" y="1034">5</text>
</g>
<g id="IV-12" transform="translate(1557.3 0)">
<circle class="s" cy="776.5" r="10.7"/><path class="ln" d="M-10 762.5H10"/>
<text class="l" x="1.5" y="815">IV:12</text>
<rect class="bw" x="-13.3" y="820" width="10.5" height="215"/><rect class="bw" x="2.3" y="820" width="10.5" height="215"/><rect class="bb" x="2.3" y="820" width="10.5" height="189.5"/>
<text class="a" x="-24.3" y="843">7</text><text class="a" x="-24.3" y="870">1</text><text class="a" x="-24.3" y="897">2</text><text class="a" x="-24.3" y="925">5</text><text class="a" x="-24.3" y="952">5</text><text class="a" x="-24.3" y="980">2</text><text class="a" x="-24.3" y="1007">5</text><text class="a" x="-24.3" y="1034">5</text>
<text class="a" x="26" y="843">1</text><text class="a" x="26" y="870">4</text><text class="a" x="26" y="897">2</text><text class="a" x="26" y="925">6</text><text class="a" x="26" y="952">4</text><text class="a" x="26" y="980">5</text><text class="a" x="26" y="1007">4</text><text class="a" x="26" y="1034">5</text>
</g>
<g id="IV-13" transform="translate(1668.3 0)">
<circle class="s" cy="776.5" r="10.7"/><path class="ln" d="M-10 762H10"/>
<text class="l" x="0.5" y="815">IV:13</text>
<rect class="bw" x="-13.3" y="820" width="10.5" height="215"/><rect class="bw" x="2.3" y="820" width="10.5" height="215"/>
<text class="a" x="-24.6" y="843">8</text><text class="a" x="-24.6" y="870">1</text><text class="a" x="-24.6" y="897">7</text><text class="a" x="-24.6" y="925">7</text><text class="a" x="-24.6" y="952">2</text><text class="a" x="-24.6" y="980">2</text><text class="a" x="-24.6" y="1007">3</text><text class="a" x="-24.6" y="1034">5</text>
<text class="a" x="26.2" y="843">6</text><text class="a" x="26.2" y="870">4</text><text class="a" x="26.2" y="897">2</text><text class="a" x="26.2" y="925">6</text><text class="a" x="26.2" y="952">2</text><text class="a" x="26.2" y="980">6</text><text class="a" x="26.2" y="1007">2</text><text class="a" x="26.2" y="1034">1</text>
</g>
<g id="IV-14" transform="translate(1767.3 0)">
<rect class="s" x="-10.5" y="766" width="21" height="21"/><path class="ln" d="M-10.5 762H10.5"/>
<text class="l" x="0.7" y="815">IV:14</text>
<rect class="bw" x="-13.3" y="820" width="10.5" height="215"/><rect class="bb" x="-13.3" y="820" width="10.5" height="189.5"/><rect class="bw" x="2.3" y="820" width="10.5" height="215"/>
<text class="a" x="-25.3" y="843">1</text><text class="a" x="-25.3" y="870">4</text><text class="a" x="-25.3" y="897">2</text><text class="a" x="-25.3" y="925">6</text><text class="a" x="-25.3" y="952">4</text><text class="a" x="-25.3" y="980">5</text><text class="a" x="-25.3" y="1007">4</text><text class="a" x="-25.3" y="1034">6</text>
<text class="a" x="25.7" y="843">6</text><text class="a" x="25.7" y="870">4</text><text class="a" x="25.7" y="897">2</text><text class="a" x="25.7" y="925">6</text><text class="a" x="25.7" y="952">2</text><text class="a" x="25.7" y="980">6</text><text class="a" x="25.7" y="1007">2</text><text class="a" x="25.7" y="1034">4</text>
</g>
<g id="IV-15" transform="translate(1857.3 0)">
<rect class="s" x="-10.5" y="766" width="21" height="21"/><path class="ln" d="M-10.5 762H10.5"/>
<text class="l" y="815">IV:15</text>
<rect class="bw" x="-13.3" y="820" width="10.5" height="215"/><rect class="bw" x="2.3" y="820" width="10.5" height="215"/>
<text class="a" x="-25.3" y="843">8</text><text class="a" x="-25.3" y="870">1</text><text class="a" x="-25.3" y="897">7</text><text class="a" x="-25.3" y="925">7</text><text class="a" x="-25.3" y="952">2</text><text class="a" x="-25.3" y="980">2</text><text class="a" x="-25.3" y="1007">3</text><text class="a" x="-25.3" y="1034">5</text>
<text class="a" x="25.7" y="843">6</text><text class="a" x="25.7" y="870">4</text><text class="a" x="25.7" y="897">2</text><text class="a" x="25.7" y="925">6</text><text class="a" x="25.7" y="952">2</text><text class="a" x="25.7" y="980">6</text><text class="a" x="25.7" y="1007">2</text><text class="a" x="25.7" y="1034">1</text>
</g>
</svg>
